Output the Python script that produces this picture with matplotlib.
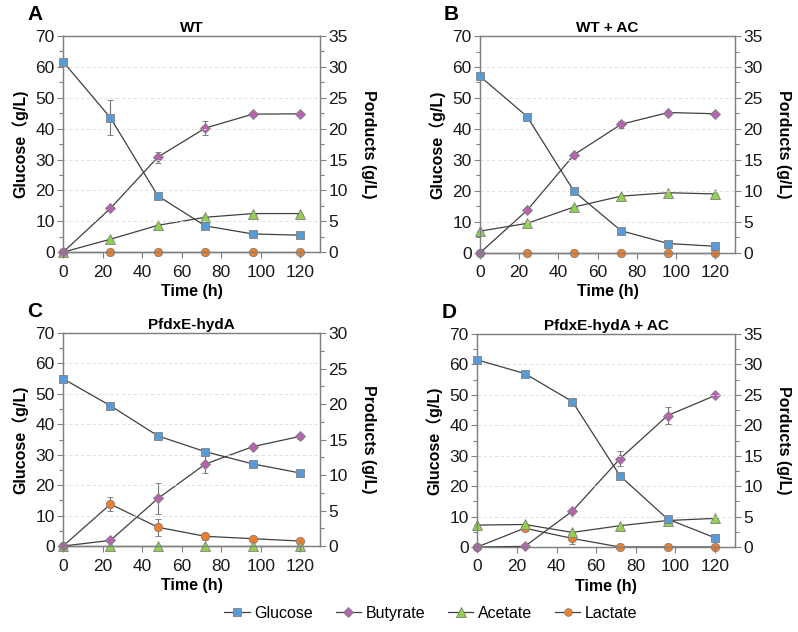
import matplotlib
matplotlib.use("Agg")
import matplotlib.pyplot as plt
from matplotlib.ticker import MultipleLocator
from matplotlib.lines import Line2D

plt.rcParams['font.family'] = ['Liberation Sans', 'Noto Sans CJK SC', 'DejaVu Sans']

time = [0, 24, 48, 72, 96, 120]

# panel A  WT
a_glu = [61.7, 43.5, 18.2, 8.5, 5.9, 5.5]
a_glu_err = [0, 5.7, 0, 0, 0, 0]
a_but = [0, 7.1, 15.4, 20.1, 22.35, 22.4]
a_but_err = [0, 0, 0.9, 1.2, 0, 0]
a_ace = [0, 2.1, 4.35, 5.65, 6.25, 6.25]
a_lac = [0, 0, 0, 0, 0, 0]

# panel B  WT + AC
b_glu = [57, 44, 19.8, 7.1, 3.0, 2.1]
b_glu_err = [0, 0, 0, 0.6, 0, 0]
b_but = [0, 6.85, 15.85, 20.75, 22.65, 22.45]
b_but_err = [0, 0, 0, 0.6, 0.3, 0]
b_ace = [3.5, 4.75, 7.4, 9.15, 9.7, 9.5]
b_lac = [0, 0, 0, 0, 0, 0]

# panel C  PfdxE-hydA
c_glu = [55, 46.1, 36.2, 31, 27, 24]
c_glu_err = [0, 0, 0, 0, 0, 0]
c_but = [0, 0.8, 6.7, 11.55, 14.0, 15.45]
c_but_err = [0, 0, 2.2, 1.25, 0.4, 0.4]
c_ace = [0, 0, 0, 0, 0, 0]
c_lac = [0, 5.9, 2.65, 1.37, 1.04, 0.7]
c_lac_err = [0, 1.0, 1.2, 0.5, 0, 0]

# panel D  PfdxE-hydA + AC
d_glu = [61.5, 57, 47.8, 23.4, 9.2, 3.0]
d_glu_err = [0, 0, 0, 0, 0, 0]
d_but = [0, 0.1, 5.9, 14.5, 21.6, 24.9]
d_but_err = [0, 0, 0, 1.2, 1.45, 0]
d_ace = [3.6, 3.7, 2.4, 3.5, 4.35, 4.7]
d_lac = [0, 3.1, 1.4, 0, 0, 0]
d_lac_err = [0, 0, 0.9, 0, 0, 0]

zeros = [0, 0, 0, 0, 0, 0]

C_GLU = '#5B9BD5'
C_BUT = '#B565B0'
C_ACE = '#92D050'
C_LAC = '#F07F2C'
LINE = '#404040'
AXC = '#808080'

panels = [
    dict(letter='A', title='WT', pos=[0.079, 0.601, 0.322, 0.342],
         glu=a_glu, glu_err=a_glu_err, but=a_but, but_err=a_but_err,
         ace=a_ace, lac=a_lac, lac_err=zeros, rmax=35, rlabel='Porducts (g/L)'),
    dict(letter='B', title='WT + AC', pos=[0.6015, 0.600, 0.3195, 0.343],
         glu=b_glu, glu_err=b_glu_err, but=b_but, but_err=b_but_err,
         ace=b_ace, lac=b_lac, lac_err=zeros, rmax=35, rlabel='Porducts (g/L)'),
    dict(letter='C', title='PfdxE-hydA', pos=[0.079, 0.136, 0.322, 0.337],
         glu=c_glu, glu_err=c_glu_err, but=c_but, but_err=c_but_err,
         ace=c_ace, lac=c_lac, lac_err=c_lac_err, rmax=30, rlabel='Products (g/L)'),
    dict(letter='D', title='PfdxE-hydA + AC', pos=[0.598, 0.1345, 0.323, 0.337],
         glu=d_glu, glu_err=d_glu_err, but=d_but, but_err=d_but_err,
         ace=d_ace, lac=d_lac, lac_err=d_lac_err, rmax=35, rlabel='Porducts (g/L)'),
]


def series(ax, y, err, color, marker, ms, z):
    ax.errorbar(time, y, yerr=err, color=LINE, lw=0.9, ecolor='#707070',
                elinewidth=0.8, capsize=2, capthick=0.8, marker=marker,
                ms=ms, mfc=color, mec='#7f7f7f', mew=0.6, zorder=z, clip_on=False)


fig = plt.figure(figsize=(7.98, 6.32), dpi=100)

for p in panels:
    ax = fig.add_axes(p['pos'])
    ax2 = ax.twinx()
    ax.set_xlim(0, 130)
    ax.set_ylim(0, 70)
    ax2.set_ylim(0, p['rmax'])
    ax.set_xticks(range(0, 121, 20))
    ax.yaxis.set_major_locator(MultipleLocator(10))
    ax.yaxis.set_minor_locator(MultipleLocator(5))
    ax2.yaxis.set_major_locator(MultipleLocator(5))
    ax2.yaxis.set_minor_locator(MultipleLocator(2.5))
    ax.grid(axis='y', color='#dcdcdc', ls=(0, (4, 3)), lw=0.6)
    ax.set_axisbelow(True)
    for a in (ax, ax2):
        for s in ('left', 'right', 'bottom', 'top'):
            a.spines[s].set_color(AXC)
            a.spines[s].set_linewidth(0.9)
        a.tick_params(which='both', colors=AXC, labelcolor='#1a1a1a', labelsize=12.5, width=0.8)
        a.tick_params(which='major', length=4, pad=2)
        a.tick_params(which='minor', length=3)
    ax.tick_params(axis='x', pad=5)
    ax.set_zorder(ax2.get_zorder() + 1)
    ax.patch.set_visible(False)

    ax.set_xlabel('Time (h)', fontsize=11.5, fontweight='bold', labelpad=3)
    ax.set_ylabel('Glucose（g/L)', fontsize=11.5, fontweight='bold', labelpad=5)
    ax2.set_ylabel(p['rlabel'], fontsize=11.5, fontweight='bold', rotation=270, labelpad=20)
    ax.set_title(p['title'], fontsize=11, fontweight='bold', pad=3)
    fig.text(p['pos'][0] - 0.045, p['pos'][1] + p['pos'][3] + 0.049, p['letter'],
             fontsize=15, fontweight='bold', va='top', ha='left')

    # products on the right axis, glucose on the left axis
    series(ax2, p['lac'], p['lac_err'], C_LAC, 'o', 6, 3)
    series(ax2, p['ace'], zeros, C_ACE, '^', 7.5, 4)
    series(ax2, p['but'], p['but_err'], C_BUT, 'D', 5.5, 5)
    series(ax, p['glu'], p['glu_err'], C_GLU, 's', 6, 6)

handles = [
    Line2D([], [], color=LINE, lw=0.9, marker='s', ms=5.5, mfc=C_GLU, mec='#7f7f7f', mew=0.6),
    Line2D([], [], color=LINE, lw=0.9, marker='D', ms=5, mfc=C_BUT, mec='#7f7f7f', mew=0.6),
    Line2D([], [], color=LINE, lw=0.9, marker='^', ms=6.5, mfc=C_ACE, mec='#7f7f7f', mew=0.6),
    Line2D([], [], color=LINE, lw=0.9, marker='o', ms=5.5, mfc=C_LAC, mec='#7f7f7f', mew=0.6),
]
fig.legend(handles, ['Glucose', 'Butyrate', 'Acetate', 'Lactate'], loc='center',
           bbox_to_anchor=(0.54, 0.03), ncol=4, frameon=False, fontsize=11.5,
           handlelength=1.6, handletextpad=0.3, columnspacing=1.4)

fig.savefig('out.png', dpi=100)
